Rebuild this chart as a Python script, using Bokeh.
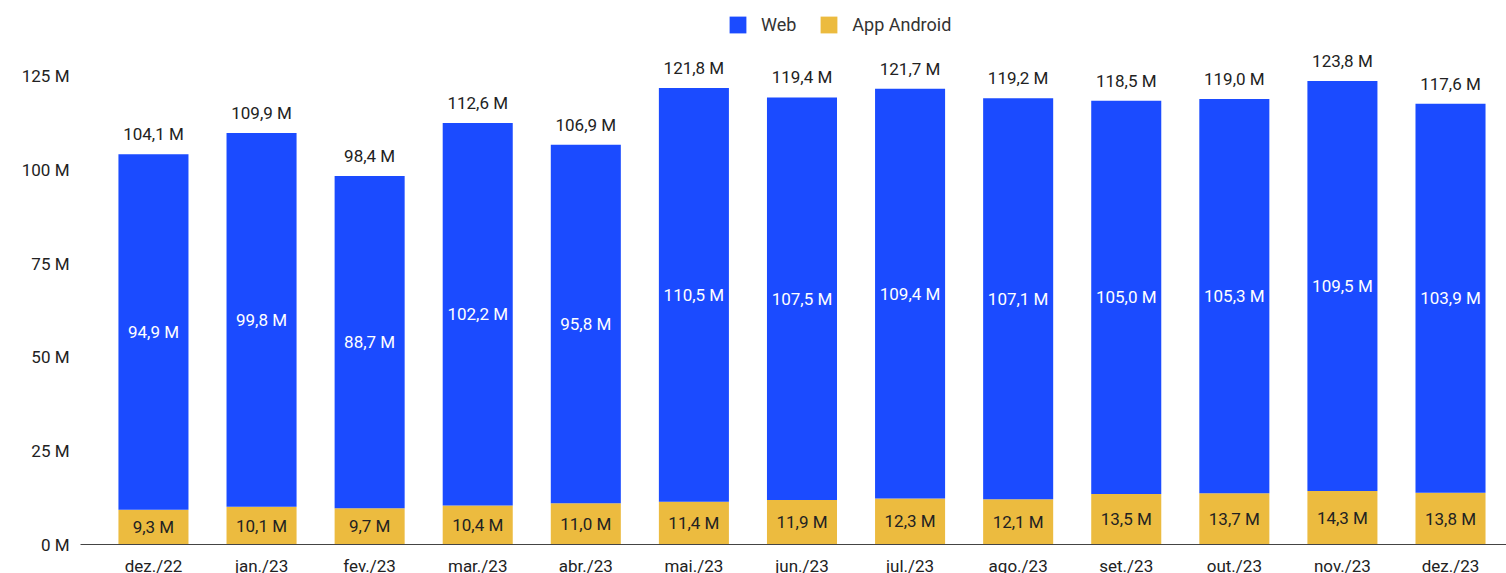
from bokeh.plotting import figure
from bokeh.models import ColumnDataSource, Range1d, FixedTicker, Legend, LegendItem, LabelSet
from bokeh.core.properties import value
from bokeh.embed import file_html
from bokeh.resources import INLINE

months = ["dez./22", "jan./23", "fev./23", "mar./23", "abr./23", "mai./23", "jun./23",
          "jul./23", "ago./23", "set./23", "out./23", "nov./23", "dez./23"]
web = [94.9, 99.8, 88.7, 102.2, 95.8, 110.5, 107.5, 109.4, 107.1, 105.0, 105.3, 109.5, 103.9]
android = [9.3, 10.1, 9.7, 10.4, 11.0, 11.4, 11.9, 12.3, 12.1, 13.5, 13.7, 14.3, 13.8]
totals = [104.1, 109.9, 98.4, 112.6, 106.9, 121.8, 119.4, 121.7, 119.2, 118.5, 119.0, 123.8, 117.6]
y_ticks = [0, 25, 50, 75, 100, 125]

BLUE = "#1b4bff"
YELLOW = "#ecbb3f"
TXT = "#222222"
FONT = "Roboto"

def fmt(v):
    return f"{v:.1f}".replace(".", ",") + " M"

x = list(range(len(months)))
src = ColumnDataSource(dict(
    x=x,
    android=android,
    web=web,
    total=[a + w for a, w in zip(android, web)],
    android_mid=[a / 2 for a in android],
    web_mid=[a + w / 2 for a, w in zip(android, web)],
    android_lbl=[fmt(v) for v in android],
    web_lbl=[fmt(v) for v in web],
    total_lbl=[fmt(v) for v in totals],
))

p = figure(frame_width=1426, frame_height=536, output_backend="svg", toolbar_location=None,
           x_range=Range1d(-0.675, 12.518), y_range=Range1d(0, 143.16),
           min_border_left=80, min_border_right=0, min_border_top=8, min_border_bottom=0)

rs = p.vbar_stack(["android", "web"], x="x", width=0.648, source=src,
                  color=[YELLOW, BLUE], line_color=None)

p.outline_line_color = None
p.xgrid.visible = False
p.ygrid.visible = False
p.background_fill_color = "white"
p.border_fill_color = "white"

# axes
p.xaxis.ticker = FixedTicker(ticks=x)
p.xaxis.major_label_overrides = {i: m for i, m in enumerate(months)}
p.xaxis.axis_line_color = "#444444"
p.xaxis.axis_line_width = 1
p.xaxis.major_tick_line_color = None
p.xaxis.minor_tick_line_color = None
p.xaxis.major_label_standoff = 5
p.xaxis.major_label_text_font = FONT
p.xaxis.major_label_text_font_size = "17px"
p.xaxis.major_label_text_color = TXT

p.yaxis.ticker = FixedTicker(ticks=y_ticks)
p.yaxis.major_label_overrides = {t: f"{t} M" for t in y_ticks}
p.yaxis.axis_line_color = None
p.yaxis.major_tick_line_color = None
p.yaxis.minor_tick_line_color = None
p.yaxis.major_label_standoff = 5
p.yaxis.major_label_text_font = FONT
p.yaxis.major_label_text_font_size = "17px"
p.yaxis.major_label_text_color = TXT

# labels
common = dict(source=src, text_font=value(FONT), text_font_size=value("17px"), text_align="center")
p.add_layout(LabelSet(x="x", y="android_mid", text="android_lbl", text_color=TXT,
                      text_baseline="middle", **common))
p.add_layout(LabelSet(x="x", y="web_mid", text="web_lbl", text_color="white",
                      text_baseline="middle", **common))
p.add_layout(LabelSet(x="x", y="total", text="total_lbl", text_color=TXT,
                      text_baseline="bottom", y_offset=10, **common))

legend = Legend(items=[LegendItem(label="Web", renderers=[rs[1]]),
                       LegendItem(label="App Android", renderers=[rs[0]])],
                orientation="horizontal", location=(647, 509),
                glyph_width=21, glyph_height=21, label_standoff=13, spacing=22,
                padding=4, margin=0, border_line_color=None, background_fill_alpha=0,
                label_text_font=FONT, label_text_font_size="18px", label_text_color="#333333")
p.add_layout(legend, "center")

open("out.html", "w").write(file_html(p, INLINE))
